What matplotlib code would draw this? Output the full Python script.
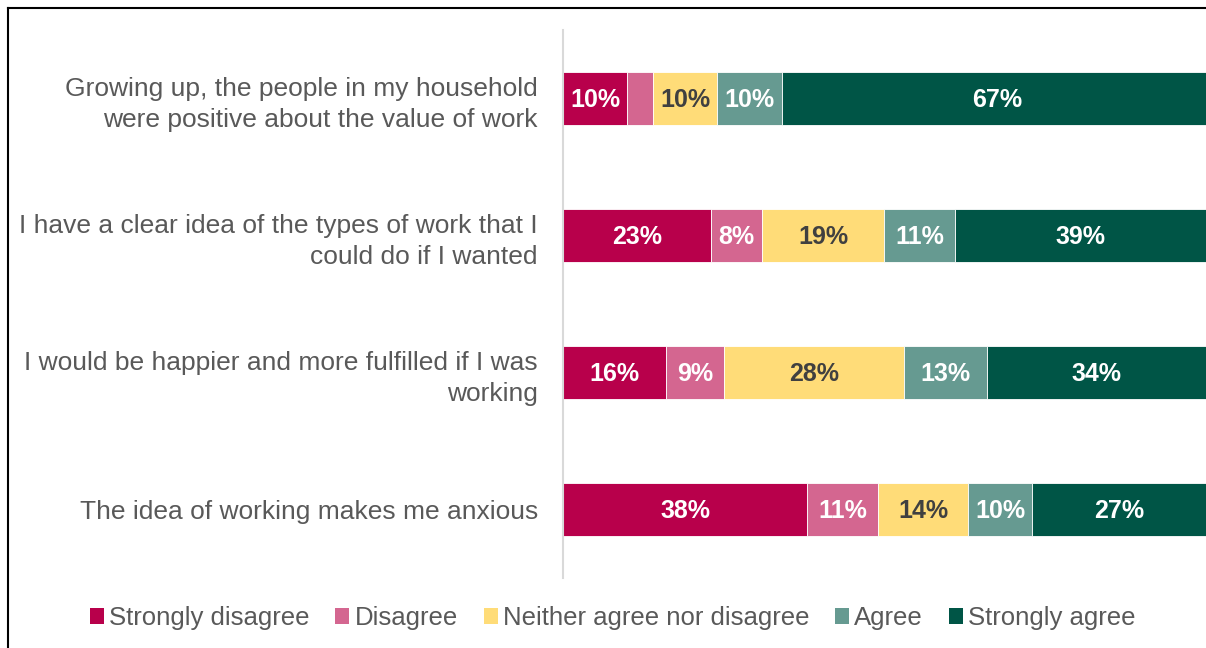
import matplotlib.pyplot as plt
from matplotlib.lines import Line2D
from matplotlib.patches import Patch
from matplotlib import font_manager

statements = [
    "Growing up, the people in my household\nwere positive about the value of work",
    "I have a clear idea of the types of work that I\ncould do if I wanted",
    "I would be happier and more fulfilled if I was\nworking",
    "The idea of working makes me anxious",
]
responses = ["Strongly disagree", "Disagree", "Neither agree nor disagree",
             "Agree", "Strongly agree"]
strongly_disagree = [10, 23, 16, 38]
disagree = [4, 8, 9, 11]
neither = [10, 19, 28, 14]
agree = [10, 11, 13, 10]
strongly_agree = [67, 39, 34, 27]

colors = ["#B8004B", "#D46690", "#FFDC78", "#669A91", "#005546"]
text_colors = ["white", "white", "#404040", "white", "white"]

names = {f.name for f in font_manager.fontManager.ttflist}
body_font = "Liberation Sans" if "Liberation Sans" in names else "DejaVu Sans"
narrow_font = "Liberation Sans Narrow" if "Liberation Sans Narrow" in names else body_font

fig = plt.figure(figsize=(12.06, 6.48), dpi=100)
ax = fig.add_axes([0.4668, 0.108, 0.5332, 0.8457])

series = [strongly_disagree, disagree, neither, agree, strongly_agree]
ypos = list(range(len(statements)))
left = [0] * len(statements)
for vals, col, tcol in zip(series, colors, text_colors):
    ax.barh(ypos, vals, left=left, height=0.39, color=col,
            edgecolor="white", linewidth=0.6)
    for y, v, l in zip(ypos, vals, left):
        if v >= 5:
            ax.text(l + v / 2, y + 0.01, f"{v}%", ha="center", va="center",
                    color=tcol, fontsize=18, fontweight="bold",
                    family=narrow_font)
    left = [a + b for a, b in zip(left, vals)]

ax.set_xlim(0, 100)
ax.set_ylim(3.5, -0.5)
ax.set_yticks(ypos)
ax.set_yticklabels(statements, fontsize=19, color="#595959",
                   family=body_font, linespacing=1.35)
ax.tick_params(axis="y", length=0, pad=18)
ax.set_xticks([])
for side in ["top", "right", "bottom"]:
    ax.spines[side].set_visible(False)
ax.spines["left"].set_color("#D9D9D9")
ax.spines["left"].set_linewidth(1.5)

handles = [Patch(facecolor=c, label=r) for c, r in zip(colors, responses)]
leg = fig.legend(handles=handles, loc="center", bbox_to_anchor=(0.508, 0.046),
                 ncol=5, frameon=False, handlelength=0.55, handleheight=0.55,
                 handletextpad=0.2, columnspacing=1.0,
                 prop={"family": body_font, "size": 18.5})
for t in leg.get_texts():
    t.set_color("#595959")

# outer frame on the left and top
fig.add_artist(Line2D([8 / 1206, 8 / 1206], [0, 1 - 8 / 648],
                      transform=fig.transFigure, color="black", linewidth=1.5))
fig.add_artist(Line2D([8 / 1206, 1], [1 - 8 / 648, 1 - 8 / 648],
                      transform=fig.transFigure, color="black", linewidth=1.5))

fig.savefig("out.png", dpi=100)
